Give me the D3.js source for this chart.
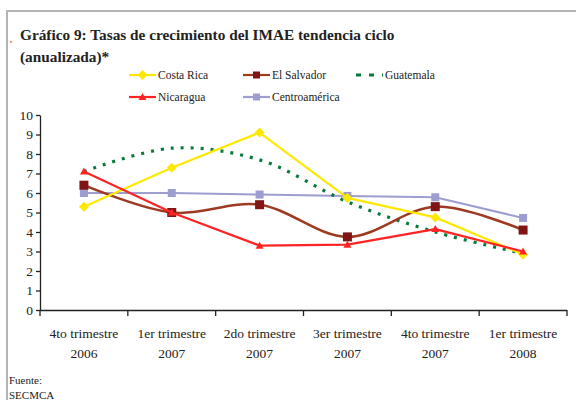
<!DOCTYPE html>
<html><head><meta charset="utf-8">
<script src="https://cdn.jsdelivr.net/npm/d3@7"></script>
<style>body{margin:0;background:#fff}svg{display:block}</style>
</head><body>
<svg id="c" width="576" height="400"></svg>
<script>
const categories = [["4to trimestre","2006"],["1er trimestre","2007"],["2do trimestre","2007"],["3er trimestre","2007"],["4to trimestre","2007"],["1er trimestre","2008"]];
const costaRica = [5.3, 7.3, 9.1, 5.75, 4.75, 2.85];
const elSalvador = [6.4, 5.0, 5.4, 3.75, 5.3, 4.1];
const guatemala = [7.1, 8.3, 7.7, 5.55, 4.0, 2.9];
const nicaragua = [7.1, 5.0, 3.3, 3.35, 4.15, 3.0];
const centroamerica = [6.0, 6.0, 5.92, 5.85, 5.78, 4.72];
const yTicks = [0,1,2,3,4,5,6,7,8,9,10];

const series = [
  {name:"Costa Rica", values:costaRica, color:"#FFE800", width:2.2, marker:"diamond", mcolor:"#FFE800", smooth:false},
  {name:"El Salvador", values:elSalvador, color:"#9E3A22", width:2.5, marker:"square", mcolor:"#7F1515", smooth:true},
  {name:"Guatemala", values:guatemala, color:"#0A7A3A", width:3.2, marker:null, dash:"3,7", smooth:true},
  {name:"Nicaragua", values:nicaragua, color:"#FF2424", width:2.2, marker:"triangle", mcolor:"#FF2424", smooth:false},
  {name:"Centroamérica", values:centroamerica, color:"#9D9DD0", width:2, marker:"square", mcolor:"#9D9DD0", smooth:false}
];

const svg = d3.select("#c");
const font = "Liberation Serif, serif";

// frame
svg.append("path").attr("d","M7,400 L7,11 L576,11").attr("fill","none").attr("stroke","#b4b4b4").attr("stroke-width",2);
svg.append("text").attr("x",10).attr("y",48).attr("font-family",font).attr("font-size",10).attr("fill","#333").text("'");

// title
svg.append("text").attr("x",20).attr("y",40).attr("font-family",font).attr("font-weight","bold").attr("font-size",15.3).attr("fill","#222")
  .text("Gráfico 9: Tasas de crecimiento del IMAE tendencia ciclo");
svg.append("text").attr("x",20).attr("y",62).attr("font-family",font).attr("font-weight","bold").attr("font-size",15.3).attr("fill","#222")
  .text("(anualizada)*");

const x0 = 40, x1 = 567, yTop = 115, yBot = 310;
const x = d3.scaleBand().domain(categories.map((d,i)=>i)).range([x0,x1]);
const y = d3.scaleLinear().domain([0,10]).range([yBot,yTop]);

// y axis
const ya = svg.append("g").attr("transform",`translate(${x0},0)`).call(d3.axisLeft(y).tickValues(yTicks).tickSize(4).tickSizeOuter(0));
ya.attr("font-family",font);
ya.select(".domain").attr("stroke","#222").attr("stroke-width",1.3);
ya.selectAll(".tick line").attr("stroke","#222").attr("stroke-width",1.3);
ya.selectAll(".tick text").attr("font-family",font).attr("font-size",13.5).attr("fill","#222").attr("x",-7);

// x axis
const xa = svg.append("g").attr("transform",`translate(0,${yBot})`).call(d3.axisBottom(x).tickSize(0).tickFormat(""));
xa.select(".domain").attr("stroke","#222").attr("stroke-width",1.3).attr("d",`M${x0},0.5H${x1}`);
const bounds = d3.range(categories.length+1).map(i => x0 + i*x.step());
xa.selectAll(".bt").data(bounds).enter().append("line").attr("class","bt")
  .attr("x1",d=>d).attr("x2",d=>d).attr("y1",0).attr("y2",6).attr("stroke","#222").attr("stroke-width",1.3);
categories.forEach((c,i)=>{
  const cx = x(i)+x.bandwidth()/2;
  svg.append("text").attr("x",cx).attr("y",338).attr("text-anchor","middle").attr("font-family",font).attr("font-size",13.5).attr("fill","#222").text(c[0]);
  svg.append("text").attr("x",cx).attr("y",358).attr("text-anchor","middle").attr("font-family",font).attr("font-size",13.5).attr("fill","#222").text(c[1]);
});

// source
svg.append("text").attr("x",9).attr("y",384).attr("font-family",font).attr("font-size",11).attr("fill","#222").text("Fuente:");
svg.append("text").attr("x",9).attr("y",399).attr("font-family",font).attr("font-size",11).attr("fill","#222").text("SECMCA");

const cx = i => x(i)+x.bandwidth()/2;

function drawMarker(g, type, px, py, color, size){
  if(type==="diamond"){
    g.append("path").attr("d",`M${px},${py-5}L${px+5},${py}L${px},${py+5}L${px-5},${py}Z`).attr("fill",color);
  } else if(type==="square"){
    g.append("rect").attr("x",px-size/2).attr("y",py-size/2).attr("width",size).attr("height",size).attr("fill",color);
  } else if(type==="triangle"){
    g.append("path").attr("d",`M${px},${py-4}L${px+4},${py+3}L${px-4},${py+3}Z`).attr("fill",color);
  }
}

const plot = svg.append("g");
const order = [4,2,1,0,3];
order.forEach(k=>{
  const s = series[k];
  const line = d3.line().x((d,i)=>cx(i)).y(d=>y(d)).curve(s.smooth ? d3.curveCatmullRom.alpha(0.5) : d3.curveLinear);
  const p = plot.append("path").datum(s.values).attr("d",line).attr("fill","none").attr("stroke",s.color).attr("stroke-width",s.width).attr("stroke-linejoin","round");
  if(s.dash) p.attr("stroke-dasharray",s.dash).attr("stroke-linecap","butt");
  if(s.marker){
    s.values.forEach((v,i)=>drawMarker(plot, s.marker, cx(i), y(v), s.mcolor, s.name==="El Salvador"?9:8));
  }
});

// legend
const leg = [
  {s:series[0], lx:129, ly:75},
  {s:series[1], lx:243, ly:75},
  {s:series[2], lx:356, ly:75},
  {s:series[3], lx:129, ly:97},
  {s:series[4], lx:243, ly:97}
];
leg.forEach(l=>{
  const g = svg.append("g");
  const ln = g.append("line").attr("x1",l.lx).attr("x2",l.lx+27).attr("y1",l.ly).attr("y2",l.ly).attr("stroke",l.s.color).attr("stroke-width",l.s.dash?3:2.2);
  if(l.s.dash) ln.attr("stroke-dasharray","5,8");
  if(l.s.marker) drawMarker(g, l.s.marker, l.lx+13.5, l.ly, l.s.mcolor, 7);
  g.append("text").attr("x",l.lx+29).attr("y",l.ly+4).attr("font-family",font).attr("font-size",11.5).attr("fill","#222").text(l.s.name);
});
</script>
</body></html>
